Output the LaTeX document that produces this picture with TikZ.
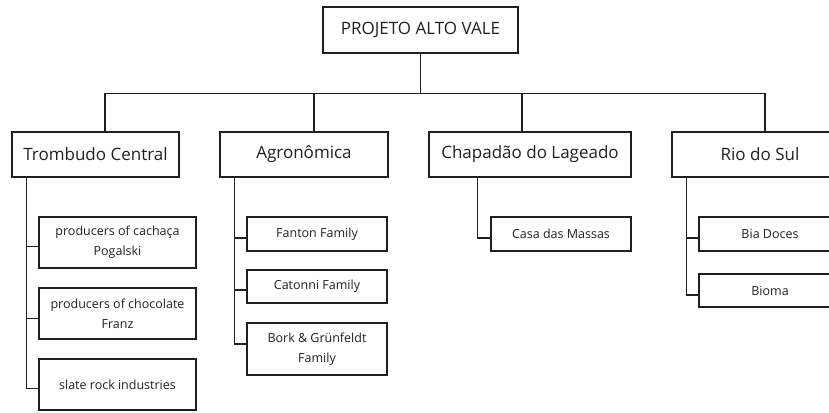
\documentclass[tikz,border=0pt]{standalone}
\usepackage{fontspec}
\setmainfont{Open Sans}
\definecolor{ink}{HTML}{231F20}
\begin{document}
\begin{tikzpicture}[x=1pt,y=-1pt,line width=1.3pt,draw=ink,text=ink,
  box/.style={draw,inner sep=0pt,align=center},
  topbox/.style={box,font=\fontsize{17}{20}\selectfont},
  townbox/.style={box,minimum height=45pt,font=\fontsize{17}{20}\selectfont},
  firmbox/.style={box,font=\fontsize{12.5}{20}\selectfont}]
\useasboundingbox (0,0) rectangle (829,412);
\clip (0,0) rectangle (829,412);
\node[topbox, minimum width=195pt, minimum height=46pt] (root) at (420.5,30) {PROJETO ALTO VALE};
\node[townbox, minimum width=167pt] (trom) at (95.5,154.5) {Trombudo Central};
\node[townbox, minimum width=168pt] (agro) at (304,154.5) {Agronômica};
\node[townbox, minimum width=202pt] (chap) at (530,154.5) {Chapadão do Lageado};
\node[townbox, minimum width=176pt] (rio) at (760,154.5) {Rio do Sul};
\node[firmbox, minimum width=157pt, minimum height=51pt] (cach) at (117.5,242.5) {producers of cachaça\\Pogalski};
\node[firmbox, minimum width=157pt, minimum height=51pt] (choc) at (117.5,313.5) {producers of chocolate\\Franz};
\node[firmbox, minimum width=157pt, minimum height=51pt] (slate) at (117.5,384.5) {slate rock industries};
\node[firmbox, minimum width=140pt, minimum height=34pt] (fant) at (317,234) {Fanton Family};
\node[firmbox, minimum width=140pt, minimum height=33pt] (caton) at (317,286.5) {Catonni Family};
\node[firmbox, minimum width=140pt, minimum height=52pt] (bork) at (317,349) {Bork \& Grünfeldt\\Family};
\node[firmbox, minimum width=140pt, minimum height=34pt] (casa) at (561,234) {Casa das Massas};
\node[firmbox, minimum width=142pt, minimum height=34pt] (bia) at (770,234) {Bia Doces};
\node[firmbox, minimum width=142pt, minimum height=33pt] (bioma) at (770,290.5) {Bioma};
\draw (root.south) -- ++(0,40) coordinate (hub);
\draw (hub) -| ([xshift=9.5]trom.north);
\draw (hub) -| ([xshift=10]agro.north);
\draw (hub) -| ([xshift=-8]chap.north);
\draw (hub) -| ([xshift=5]rio.north);
\foreach \b/\s in {cach/-4,choc/-5,slate/-4}
  \draw ([xshift=15]trom.south west) |- ([yshift=\s]\b.west);
\foreach \b/\s in {fant/-4,caton/-3.5,bork/5}
  \draw ([xshift=15]agro.south west) |- ([yshift=\s]\b.west);
\draw ([xshift=49]chap.south west) |- ([yshift=-4]casa.west);
\foreach \b/\s in {bia/-4,bioma/-4.5}
  \draw ([xshift=15]rio.south west) |- ([yshift=\s]\b.west);
\end{tikzpicture}
\end{document}
